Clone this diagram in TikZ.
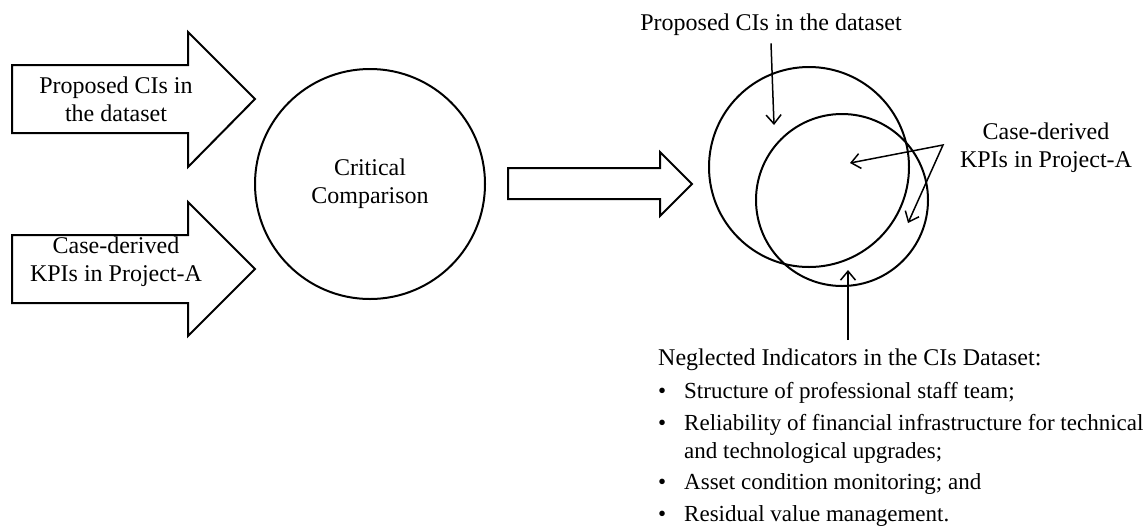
\documentclass[tikz,border=0pt]{standalone}
\usepackage{fontspec}
\setmainfont{Liberation Serif}
\usetikzlibrary{arrows.meta}
\begin{document}
\begin{tikzpicture}[x=1pt,y=-1pt,
  outline/.style={draw=black, line width=2pt, line join=miter},
  ring/.style={draw=black, line width=2pt, circle, inner sep=0pt},
  pointer/.style={draw=black, line width=1.5pt, line join=miter},
  barb/.tip={Straight Barb[length=9pt,width=15pt]},
  txt/.style={font=\fontsize{24}{28}\selectfont, align=center, inner sep=0pt},
  listtext/.style={font=\fontsize{23}{28}\selectfont, inner sep=0pt},
]
\useasboundingbox (0,0) rectangle (1143,528);

% two input block arrows
\draw[outline] (12,65) -- (188,65) -- (188,32) -- (255,99) -- (188,167)
  -- (188,133) -- (12,133) -- cycle;
\node[txt] (inA) at (116,99) {Proposed CIs in\\the dataset};

\draw[outline] (12,235) -- (188,235) -- (188,202) -- (255,269) -- (188,336)
  -- (188,303) -- (12,303) -- cycle;
\node[txt] (inB) at (116,261.5) {Case-derived\\KPIs in Project-A};

% comparison step
\node[ring, minimum size=230pt, txt] (cmp) at (370,184) {Critical\\Comparison};

% output block arrow
\draw[outline] (508,168) -- (660,168) -- (660,152) -- (692,184) -- (660,216)
  -- (660,199) -- (508,199) -- cycle;

% overlapping sets
\node[ring, minimum size=200pt] (setA) at (809,167) {};
\node[ring, minimum size=172pt] (setB) at (842,200) {};

% labels for the sets
\node[txt, anchor=base] (lblA) at (771,30) {Proposed CIs in the dataset};
\coordinate (tipA) at (774,125);
\draw[pointer, -barb] ([yshift=-8pt]lblA.south) -- (tipA);

\node[txt] (lblB) at (1046,147.5) {Case-derived\\KPIs in Project-A};
\coordinate (vtx) at (943,145);
\coordinate (tipB) at (850,163);
\coordinate (tipC) at (908,223);
\draw[pointer, barb-barb] (tipB) -- (vtx) -- (tipC);

% neglected indicators
\node[txt, anchor=base west] (neg) at (658,365) {Neglected Indicators in the CIs Dataset:};
\coordinate (tail) at (848,340);
\coordinate (tipD) at (848,270);
\draw[pointer, -barb] (tail) -- (tipD);

\node[listtext, anchor=base west] (items) at (658,398) {%
\begin{tabular}[t]{@{}l@{}l@{}}
\makebox[26pt][l]{•} & Structure of professional staff team;\\[4pt]
\makebox[26pt][l]{•} & Reliability of financial infrastructure for technical\\
 & and technological upgrades;\\[3pt]
\makebox[26pt][l]{•} & Asset condition monitoring; and\\[4pt]
\makebox[26pt][l]{•} & Residual value management.
\end{tabular}};
\end{tikzpicture}
\end{document}
